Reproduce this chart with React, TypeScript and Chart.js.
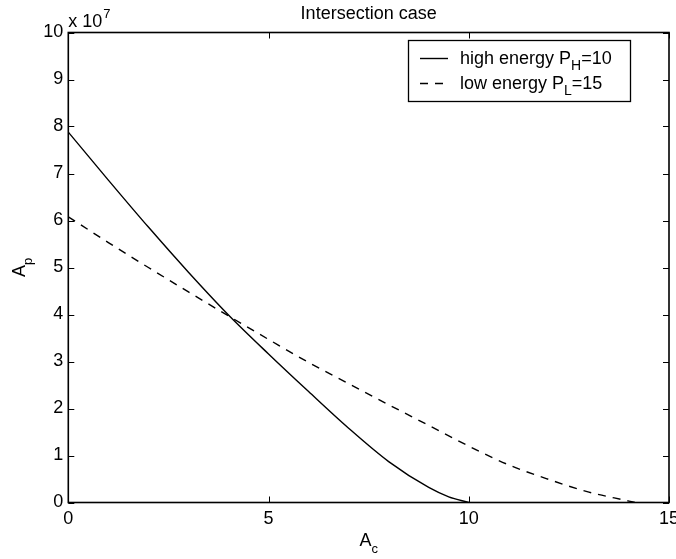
import React, { useEffect, useRef } from "react";
import { Chart, registerables } from "chart.js";

Chart.register(...registerables);

const titleText = "Intersection case";
const xTickValues = [0, 5, 10, 15];
const yScaleExponent = 7;

const highLabel = ["high energy P", "H", "=10"];
const lowLabel = ["low energy P", "L", "=15"];

const highX = [0, 1, 2, 3, 4, 5, 6, 7, 8, 9, 9.5, 10];
const highY = [7.88e7, 6.86e7, 5.86e7, 4.9e7, 3.99e7, 3.16e7, 2.36e7, 1.58e7, 0.87e7, 0.32e7, 0.12e7, 0];

const lowX = [0, 1, 2, 3, 4, 5, 6, 7, 8, 9, 10, 11, 12, 13, 14, 14.15];
const lowY = [6.08e7, 5.53e7, 5.0e7, 4.48e7, 3.97e7, 3.47e7, 2.98e7, 2.53e7, 2.08e7, 1.64e7, 1.2e7, 0.8e7, 0.49e7, 0.22e7, 0.03e7, 0];

const FONT = "'Liberation Sans', Arial, Helvetica, sans-serif";
const DASH = [8, 7];

function drawSubText(ctx: CanvasRenderingContext2D, parts: string[], x: number, y: number, size: number, subSize: number, subDrop: number) {
  ctx.font = `${size}px ${FONT}`;
  ctx.fillText(parts[0], x, y);
  let cx = x + ctx.measureText(parts[0]).width;
  ctx.font = `${subSize}px ${FONT}`;
  ctx.fillText(parts[1], cx, y + subDrop);
  cx += ctx.measureText(parts[1]).width;
  if (parts[2]) {
    ctx.font = `${size}px ${FONT}`;
    ctx.fillText(parts[2], cx, y);
  }
}

const matlabPlugin = {
  id: "matlabDecor",
  afterDraw(chart: any) {
    const { ctx, chartArea } = chart;
    const { left, right, top, bottom } = chartArea;
    const xs = chart.scales.x;
    const ys = chart.scales.y;
    ctx.save();
    ctx.strokeStyle = "#000";
    ctx.fillStyle = "#000";
    ctx.lineWidth = 1.6;
    ctx.setLineDash([]);
    ctx.strokeRect(left, top, right - left, bottom - top);
    const tl = 6;
    ctx.lineWidth = 1;
    ctx.beginPath();
    xs.ticks.forEach((t: any) => {
      const px = Math.round(xs.getPixelForValue(t.value)) + 0.5;
      ctx.moveTo(px, bottom);
      ctx.lineTo(px, bottom - tl);
      ctx.moveTo(px, top);
      ctx.lineTo(px, top + tl);
    });
    ys.ticks.forEach((t: any) => {
      const py = Math.round(ys.getPixelForValue(t.value)) + 0.5;
      ctx.moveTo(left, py);
      ctx.lineTo(left + tl, py);
      ctx.moveTo(right, py);
      ctx.lineTo(right - tl, py);
    });
    ctx.stroke();

    // title
    ctx.textBaseline = "alphabetic";
    ctx.textAlign = "center";
    ctx.font = `18px ${FONT}`;
    ctx.fillText(titleText, (left + right) / 2, 19);

    // exponent
    ctx.textAlign = "left";
    ctx.font = `18px ${FONT}`;
    ctx.fillText("x 10", left, 27);
    const w = ctx.measureText("x 10").width;
    ctx.font = `13px ${FONT}`;
    ctx.fillText(String(yScaleExponent), left + w + 1, 18);

    // x axis title A_c
    ctx.font = `18px ${FONT}`;
    const aw = ctx.measureText("A").width;
    ctx.font = `13px ${FONT}`;
    const cw = ctx.measureText("c").width;
    const cxStart = (left + right) / 2 - (aw + cw) / 2;
    drawSubText(ctx, ["A", "c", ""], cxStart, 546, 18, 13, 7);

    // y axis title A_p
    ctx.save();
    ctx.translate(25, (top + bottom) / 2);
    ctx.rotate(-Math.PI / 2);
    ctx.font = `18px ${FONT}`;
    const aw2 = ctx.measureText("A").width;
    ctx.font = `13px ${FONT}`;
    const pw = ctx.measureText("p").width;
    drawSubText(ctx, ["A", "p", ""], -(aw2 + pw) / 2, 0, 18, 13, 7);
    ctx.restore();

    // legend
    const bx = 408.5, by = 40.5, bw = 222, bh = 61;
    ctx.fillStyle = "#fff";
    ctx.fillRect(bx, by, bw, bh);
    ctx.strokeStyle = "#000";
    ctx.lineWidth = 1.3;
    ctx.strokeRect(bx, by, bw, bh);
    ctx.fillStyle = "#000";
    const rows = [
      { parts: highLabel, dash: [] as number[], base: 64 },
      { parts: lowLabel, dash: DASH, base: 89 },
    ];
    rows.forEach((r) => {
      ctx.beginPath();
      ctx.setLineDash(r.dash);
      ctx.lineWidth = 1.4;
      ctx.moveTo(420, r.base - 5.5);
      ctx.lineTo(448, r.base - 5.5);
      ctx.stroke();
      ctx.setLineDash([]);
      drawSubText(ctx, r.parts, 460, r.base, 18, 14, 6);
    });
    ctx.restore();
  },
};

export default function App() {
  const ref = useRef<HTMLCanvasElement | null>(null);
  useEffect(() => {
    document.body.style.margin = "0";
    if (!ref.current) return;
    const chart = new Chart(ref.current, {
      type: "line",
      data: {
        datasets: [
          {
            label: highLabel.join(""),
            data: highX.map((x, i) => ({ x, y: highY[i] })),
            borderColor: "#000",
            borderWidth: 1.4,
            pointRadius: 0,
            cubicInterpolationMode: "monotone",
            fill: false,
          },
          {
            label: lowLabel.join(""),
            data: lowX.map((x, i) => ({ x, y: lowY[i] })),
            borderColor: "#000",
            borderWidth: 1.4,
            borderDash: DASH,
            pointRadius: 0,
            cubicInterpolationMode: "monotone",
            fill: false,
          },
        ],
      },
      options: {
        responsive: false,
        animation: false,
        events: [],
        layout: { padding: { left: 0, right: 7, top: 32.5, bottom: 0 } },
        plugins: { legend: { display: false }, title: { display: false }, tooltip: { enabled: false } },
        scales: {
          x: {
            type: "linear",
            min: 0,
            max: 15,
            afterBuildTicks: (s: any) => {
              s.ticks = xTickValues.map((v) => ({ value: v }));
            },
            grid: { display: false, drawTicks: false },
            border: { display: false },
            ticks: { color: "#000", font: { size: 18, family: FONT }, padding: 6, maxRotation: 0, autoSkip: false },
            afterFit: (s: any) => {
              s.height = 56.5;
              s.paddingLeft = 0;
              s.paddingRight = 0;
            },
          },
          y: {
            type: "linear",
            min: 0,
            max: 1e8,
            ticks: {
              stepSize: 1e7,
              color: "#000",
              font: { size: 18, family: FONT },
              padding: 5,
              callback: (v: any) => String(Math.round(Number(v) / Math.pow(10, yScaleExponent))),
            },
            grid: { display: false, drawTicks: false },
            border: { display: false },
            afterFit: (s: any) => {
              s.width = 68.3;
              s.paddingTop = 0;
              s.paddingBottom = 0;
            },
          },
        },
      },
      plugins: [matlabPlugin],
    } as any);
    return () => chart.destroy();
  }, []);
  return (
    <div style={{ position: "absolute", left: 0, top: 0, width: 676, height: 559, background: "#fff" }}>
      <canvas ref={ref} width={676} height={559} style={{ display: "block" }} />
    </div>
  );
}
